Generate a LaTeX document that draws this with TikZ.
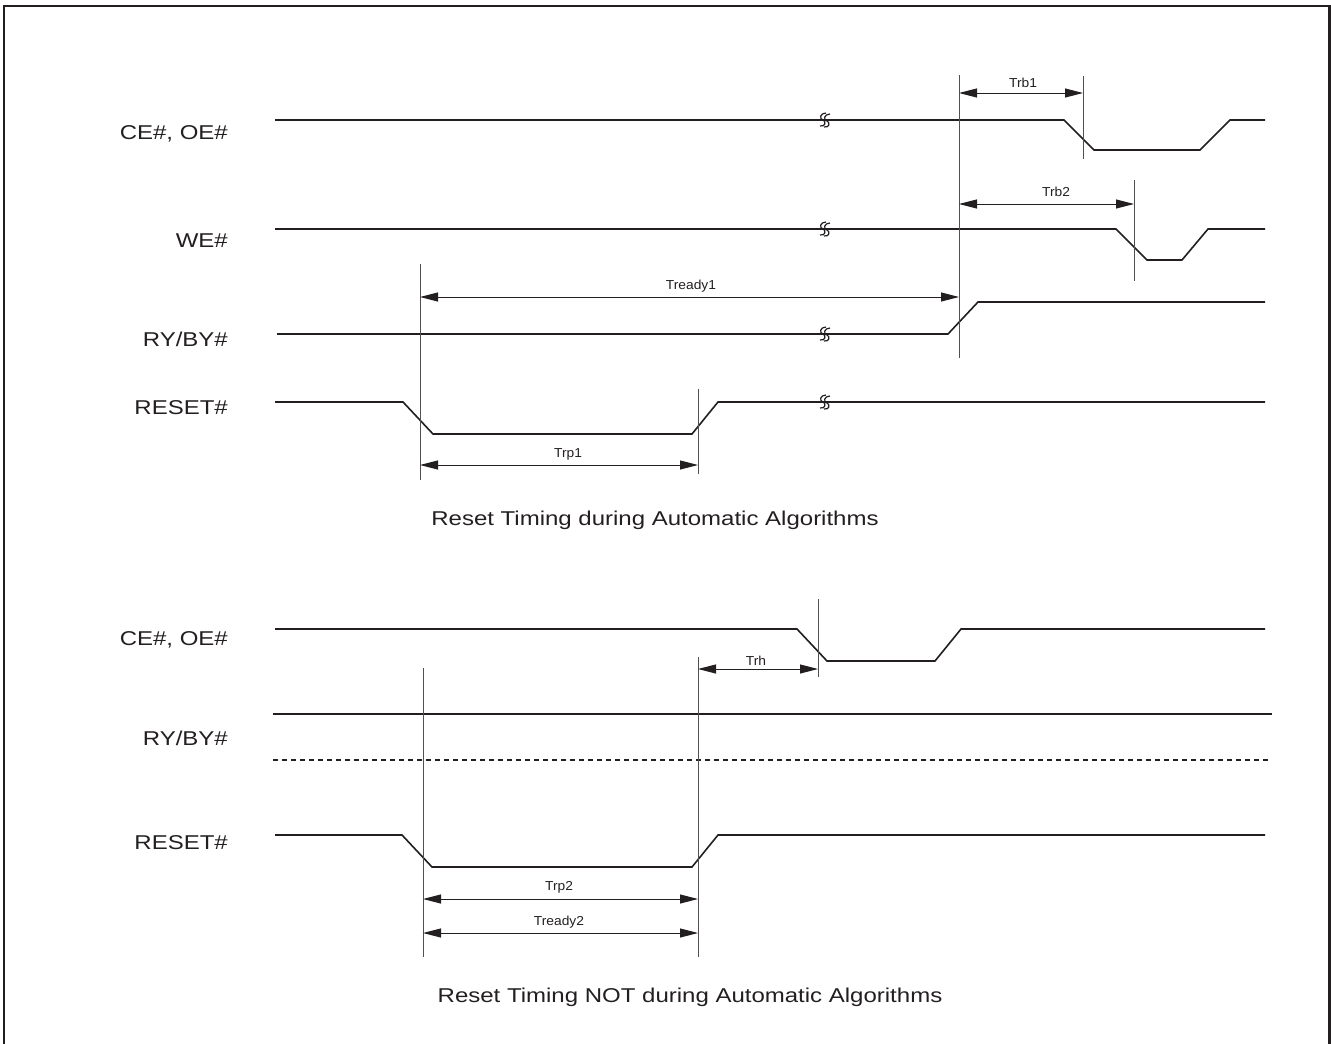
\documentclass[tikz,border=0pt]{standalone}
\usepackage{fontspec}
\usetikzlibrary{arrows.meta}
\newfontfamily\bigf[FakeStretch=1.2]{Liberation Sans}
\newfontfamily\smallf[FakeStretch=1.06]{Liberation Sans}
\definecolor{ink}{HTML}{231F20}
\definecolor{guide}{HTML}{505050}
\tikzset{
  sig/.style={draw=ink, line width=1.6pt, line join=miter},
  guideline/.style={draw=guide, line width=1pt},
  dim/.style={draw=ink, line width=1pt, arrows={Triangle[length=18pt,width=9pt]-Triangle[length=18pt,width=9pt]}},
  siglabel/.style={anchor=east, inner sep=0pt, text=ink, font=\bigf\fontsize{20}{22}\selectfont},
  title/.style={inner sep=0pt, text=ink, font=\bigf\fontsize{20}{22}\selectfont},
  dimlabel/.style={inner sep=0pt, text=ink, font=\smallf\fontsize{13}{15}\selectfont},
  brk/.pic={
    \draw[ink, line width=1.2pt] (-5,6) .. controls (1,7) and (1,1) .. (-2,0) .. controls (-6,-1) and (-5,-7) .. (1,-7);
    \draw[ink, line width=1.2pt] (-1,7) .. controls (5,8) and (5,2) .. (2,1) .. controls (-2,0) and (-1,-6) .. (5,-6);
  }
}
\begin{document}
\begin{tikzpicture}[x=1pt,y=-1pt]
\useasboundingbox (0,0) rectangle (1331,1044);
% frame (open at the bottom)
\draw[ink, line width=2.5pt] (4,1046) -- (4,6) -- (1329.5,6) -- (1329.5,1046);

% ===== top diagram =====
\node[siglabel] (lce1) at (228,134) {CE\#, OE\#};
\node[siglabel] (lwe1) at (228,241) {WE\#};
\node[siglabel] (lry1) at (228,339) {RY/BY\#};
\node[siglabel] (lrs1) at (228,408) {RESET\#};

\draw[sig] (275,120) -- (1064,120) -- (1094,150) -- (1200,150) -- (1230,120) -- (1265,120);
\draw[sig] (275,229) -- (1116,229) -- (1147,260) -- (1182,260) -- (1208,229) -- (1265,229);
\draw[sig] (277,334) -- (948,334) -- (978,302) -- (1265,302);
\draw[sig] (275,402) -- (403,402) -- (433,434) -- (692,434) -- (718,402) -- (1265,402);

\pic at (825,120) {brk};
\pic at (825,229) {brk};
\pic at (825,334) {brk};
\pic at (825,402) {brk};

% guide lines
\coordinate (g1t) at (959,75);   \coordinate (g1b) at (959,358);
\coordinate (g2t) at (1083,76);  \coordinate (g2b) at (1083,159);
\coordinate (g3t) at (1134,180); \coordinate (g3b) at (1134,281);
\coordinate (g4t) at (420,264);  \coordinate (g4b) at (420,480);
\coordinate (g5t) at (698,389);  \coordinate (g5b) at (698,474);
\draw[guideline] (g1t) -- (g1b);
\draw[guideline] (g2t) -- (g2b);
\draw[guideline] (g3t) -- (g3b);
\draw[guideline] (g4t) -- (g4b);
\draw[guideline] (g5t) -- (g5b);

% dimension arrows
\coordinate (trb1a) at (959,93);  \coordinate (trb1b) at (1083,93);
\coordinate (trb2a) at (959,204); \coordinate (trb2b) at (1134,204);
\coordinate (trd1a) at (420,297); \coordinate (trd1b) at (959,297);
\coordinate (trp1a) at (420,465); \coordinate (trp1b) at (698,465);
\draw[dim] (trb1a) -- (trb1b);
\draw[dim] (trb2a) -- (trb2b);
\draw[dim] (trd1a) -- (trd1b);
\draw[dim] (trp1a) -- (trp1b);
\node[dimlabel] (ltrb1) at (1023,83) {Trb1};
\node[dimlabel] (ltrb2) at (1056,192) {Trb2};
\node[dimlabel] (ltrd1) at (691,286) {Tready1};
\node[dimlabel] (ltrp1) at (568,454) {Trp1};

\node[title] (t1) at (655,520) {Reset Timing during Automatic Algorithms};

% ===== bottom diagram =====
\node[siglabel] (lce2) at (228,640) {CE\#, OE\#};
\node[siglabel] (lry2) at (228,738) {RY/BY\#};
\node[siglabel] (lrs2) at (228,843) {RESET\#};

\draw[sig] (275,629) -- (797,629) -- (827,661) -- (935,661) -- (961,629) -- (1265,629);
\draw[sig] (273,714) -- (1272,714);
\draw[sig, dash pattern=on 5pt off 4pt] (273,760) -- (1270,760);
\draw[sig] (275,835) -- (402,835) -- (432,867) -- (692,867) -- (718,835) -- (1265,835);

\coordinate (h1t) at (818,599); \coordinate (h1b) at (818,677);
\coordinate (h2t) at (698,657); \coordinate (h2b) at (698,957);
\coordinate (h3t) at (423,668); \coordinate (h3b) at (423,957);
\draw[guideline] (h1t) -- (h1b);
\draw[guideline] (h2t) -- (h2b);
\draw[guideline] (h3t) -- (h3b);

\coordinate (trha) at (698,669);  \coordinate (trhb) at (818,669);
\coordinate (trp2a) at (423,899); \coordinate (trp2b) at (698,899);
\coordinate (trd2a) at (423,933); \coordinate (trd2b) at (698,933);
\draw[dim] (trha) -- (trhb);
\draw[dim] (trp2a) -- (trp2b);
\draw[dim] (trd2a) -- (trd2b);
\node[dimlabel] (ltrh) at (756,661) {Trh};
\node[dimlabel] (ltrp2) at (559,887) {Trp2};
\node[dimlabel] (ltrd2) at (559,922) {Tready2};

\node[title] (t2) at (690,997) {Reset Timing NOT during Automatic Algorithms};
\end{tikzpicture}
\end{document}
